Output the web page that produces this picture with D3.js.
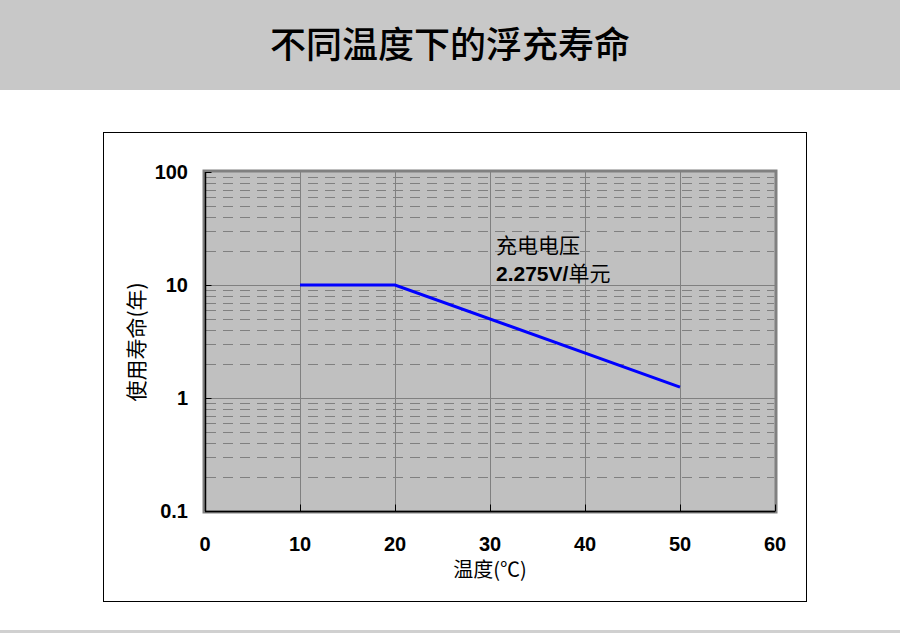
<!DOCTYPE html>
<html><head><meta charset="utf-8">
<script src="https://cdn.jsdelivr.net/npm/d3@7"></script>
<style>body{margin:0;background:#fff;}svg{display:block;}</style>
</head><body>
<svg id="c" width="900" height="633"></svg>
<script>
const title = "不同温度下的浮充寿命";
const xTicks = [0, 10, 20, 30, 40, 50, 60];
const yTicks = [0.1, 1, 10, 100];
const yTickLabels = ["0.1", "1", "10", "100"];
const temps = [10, 20, 50];
const lifeYears = [10, 10, 1.25];
const xTitle = "温度(℃)";
const yTitle = "使用寿命(年)";
const noteLine1 = "充电电压";
const noteBold = "2.275V/";
const noteRest = "单元";

const svg = d3.select("#c");
const cjk = "'Noto Sans CJK SC', sans-serif";
const arial = "'Liberation Sans', Arial, sans-serif";

// header band
svg.append("rect").attr("x",0).attr("y",0).attr("width",900).attr("height",90).attr("fill","#c8c8c8");
svg.append("text").attr("x",450).attr("y",58).attr("text-anchor","middle")
  .attr("font-family",cjk).attr("font-size",36).attr("font-weight",500).attr("fill","#000").text(title);
svg.append("rect").attr("x",0).attr("y",630).attr("width",900).attr("height",3).attr("fill","#d0d0d0");

// outer frame
svg.append("rect").attr("x",103.5).attr("y",132.5).attr("width",703).attr("height",469)
  .attr("fill","none").attr("stroke","#000").attr("stroke-width",1);

const x = d3.scaleLinear().domain([0,60]).range([205,775]);
const y = d3.scaleLog().domain([0.1,100]).range([511,172]);

// plot background with dark border
svg.append("rect").attr("x",x(0)-1).attr("y",y(100)-1).attr("width",x(60)-x(0)+2).attr("height",y(0.1)-y(100)+2)
  .attr("fill","#c0c0c0").attr("stroke","#808080").attr("stroke-width",3);

// minor dashed gridlines
const minor = [];
[0.1,1,10].forEach(d=>{ for(let k=2;k<=9;k++) minor.push(d*k); });
svg.append("g").selectAll("line").data(minor).join("line")
  .attr("x1",x(0)+1).attr("x2",x(60)-1)
  .attr("y1",d=>Math.round(y(d))+0.5).attr("y2",d=>Math.round(y(d))+0.5)
  .attr("stroke","#808080").attr("stroke-width",1).attr("stroke-dasharray","10,7");

// major gridlines
svg.append("g").selectAll("line").data([1,10]).join("line")
  .attr("x1",x(0)).attr("x2",x(60))
  .attr("y1",d=>Math.round(y(d))+0.5).attr("y2",d=>Math.round(y(d))+0.5)
  .attr("stroke","#808080").attr("stroke-width",1);
svg.append("g").selectAll("line").data(xTicks.slice(1,-1)).join("line")
  .attr("x1",d=>Math.round(x(d))+0.5).attr("x2",d=>Math.round(x(d))+0.5)
  .attr("y1",y(100)).attr("y2",y(0.1))
  .attr("stroke","#808080").attr("stroke-width",1);

// axes (black lines + inward ticks)
const yAxis = d3.axisRight(y).tickValues(yTicks).tickSize(6).tickFormat("");
svg.append("g").attr("transform",`translate(${x(0)+0.5},0)`).call(yAxis)
  .call(g=>g.select(".domain").attr("stroke","#000").attr("stroke-width",1.5).attr("d",`M0,${y(100)}V${y(0.1)}`))
  .call(g=>g.selectAll(".tick line").attr("stroke","#000"));
const xAxis = d3.axisTop(x).tickValues(xTicks).tickSize(7).tickFormat("");
svg.append("g").attr("transform",`translate(0,${y(0.1)+0.5})`).call(xAxis)
  .call(g=>g.select(".domain").attr("stroke","#000").attr("stroke-width",1.5).attr("d",`M${x(0)},0H${x(60)}`))
  .call(g=>g.selectAll(".tick line").attr("stroke","#000"));

// tick labels
svg.append("g").selectAll("text").data(yTicks).join("text")
  .attr("x",188).attr("y",d=>y(d)+7).attr("text-anchor","end")
  .attr("font-family",arial).attr("font-weight","bold").attr("font-size",20).attr("fill","#000")
  .text((d,i)=>yTickLabels[i]);
svg.append("g").selectAll("text").data(xTicks).join("text")
  .attr("x",d=>x(d)).attr("y",551).attr("text-anchor","middle")
  .attr("font-family",arial).attr("font-weight","bold").attr("font-size",20).attr("fill","#000")
  .text(d=>d);

// axis titles
svg.append("text").attr("x",490).attr("y",577).attr("text-anchor","middle")
  .attr("font-family",cjk).attr("font-size",20).attr("fill","#000").text(xTitle);
svg.append("text").attr("transform","translate(144,342) rotate(-90)").attr("text-anchor","middle")
  .attr("font-family",cjk).attr("font-size",21).attr("fill","#000").text(yTitle);

// series line
const line = d3.line().x(d=>x(d[0])).y(d=>y(d[1]));
svg.append("path").datum(temps.map((t,i)=>[t,lifeYears[i]])).attr("d",line)
  .attr("fill","none").attr("stroke","#0000ff").attr("stroke-width",3);

// annotation
svg.append("text").attr("x",496).attr("y",253)
  .attr("font-family",cjk).attr("font-size",21).attr("fill","#000").text(noteLine1);
const t2 = svg.append("text").attr("x",496).attr("y",281).attr("font-size",21).attr("fill","#000");
t2.append("tspan").attr("font-family",arial).attr("font-weight","bold").text(noteBold);
t2.append("tspan").attr("font-family",cjk).text(noteRest);
</script>
</body></html>
